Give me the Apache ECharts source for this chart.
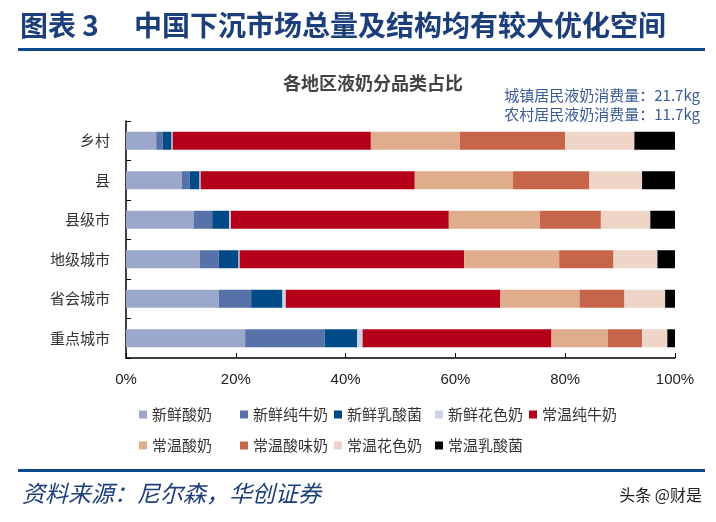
<!DOCTYPE html>
<html>
<head>
<meta charset="utf-8">
<script src="https://cdn.jsdelivr.net/npm/echarts@6/dist/echarts.min.js"></script>
<style>
  html, body { margin: 0; padding: 0; background: #fff; }
  #chart { width: 716px; height: 522px; }
</style>
</head>
<body>
<div id="chart"></div>
<script>
// --- data (percent of each region's liquid milk) ---
const regions = ['乡村', '县', '县级市', '地级城市', '省会城市', '重点城市'];

const freshYogurt   = [5.5, 10.2, 12.3, 13.4, 16.9, 21.7];
const freshMilk     = [1.2, 1.4, 3.4, 3.5, 5.9, 14.5];
const freshLactic   = [1.6, 1.8, 3.1, 3.6, 5.7, 5.9];
const freshFlavored = [0.2, 0.2, 0.3, 0.2, 0.6, 1.0];
const ambientMilk   = [36.1, 39.0, 39.7, 40.9, 39.1, 34.4];
const ambientYogurt = [16.2, 17.9, 16.6, 17.3, 14.4, 10.3];
const ambientSour   = [19.2, 13.9, 11.1, 9.9, 8.2, 6.2];
const ambientFlavor = [12.6, 9.6, 9.0, 8.0, 7.4, 4.6];
const ambientLactic = [7.4, 6.0, 4.5, 3.2, 1.8, 1.4];

const seriesNames = ['新鲜酸奶', '新鲜纯牛奶', '新鲜乳酸菌', '新鲜花色奶', '常温纯牛奶',
                     '常温酸奶', '常温酸味奶', '常温花色奶', '常温乳酸菌'];
const seriesData = [freshYogurt, freshMilk, freshLactic, freshFlavored, ambientMilk,
                    ambientYogurt, ambientSour, ambientFlavor, ambientLactic];
const colors = ['#9BA8CB', '#5672A8', '#004B87', '#CCD3E6', '#B5001A',
                '#DFAC8C', '#C6654A', '#EFD5C8', '#000000'];

const xTicks = [0, 20, 40, 60, 80, 100];

const chart = echarts.init(document.getElementById('chart'));

const cjk = '"Noto Sans CJK SC", sans-serif';

// one legend per item so the columns sit where the reference has them
const legendCols = [134, 235, 329, 430, 524];
const legends = seriesNames.map((name, i) => ({
  data: [name],
  left: legendCols[i % 5],
  top: i < 5 ? 402 : 433,
  icon: 'rect',
  itemWidth: 8,
  itemHeight: 8,
  textStyle: { fontFamily: cjk, fontSize: 15, color: '#333' }
}));

const option = {
  backgroundColor: '#fff',
  animation: false,
  color: colors,
  grid: { left: 126, right: 41, top: 121, bottom: 164 },
  legend: legends,
  xAxis: {
    type: 'value',
    min: xTicks[0],
    max: xTicks[xTicks.length - 1],
    interval: 20,
    axisLine: { show: true, lineStyle: { color: '#000', width: 1.5 } },
    axisTick: { show: true, inside: true, length: 5, lineStyle: { color: '#000' } },
    splitLine: { show: false },
    axisLabel: {
      formatter: '{value}%',
      margin: 14,
      fontFamily: 'Liberation Sans, Arial, sans-serif',
      fontSize: 15,
      color: '#222'
    }
  },
  yAxis: {
    type: 'category',
    data: regions,
    inverse: true,
    axisLine: { show: true, lineStyle: { color: '#000', width: 1.5 } },
    axisTick: { show: true, inside: true, length: 5, lineStyle: { color: '#000' } },
    axisLabel: { margin: 16, fontFamily: cjk, fontSize: 15, color: '#333' }
  },
  series: seriesData.map((d, i) => ({
    name: seriesNames[i],
    type: 'bar',
    stack: 'total',
    barWidth: 18,
    data: d
  })),
  graphic: [
    { type: 'text', left: 20, top: 11,
      style: { text: '图表 3', font: 'bold 28px ' + cjk, fill: '#1C3F7C' } },
    { type: 'text', left: 134, top: 11,
      style: { text: '中国下沉市场总量及结构均有较大优化空间', font: 'bold 28px ' + cjk, fill: '#1C3F7C' } },
    { type: 'rect', shape: { x: 18, y: 48, width: 687, height: 3 }, style: { fill: '#0E4A8A' } },
    { type: 'text', left: 283, top: 74,
      style: { text: '各地区液奶分品类占比', font: 'bold 18px ' + cjk, fill: '#444' } },
    { type: 'text', right: 16, top: 88,
      style: { text: '城镇居民液奶消费量：21.7kg', font: '15px ' + cjk, fill: '#3A5C98' } },
    { type: 'text', right: 16, top: 107,
      style: { text: '农村居民液奶消费量：11.7kg', font: '15px ' + cjk, fill: '#3A5C98' } },
    { type: 'rect', shape: { x: 18, y: 469, width: 687, height: 3 }, style: { fill: '#0E4A8A' } },
    { type: 'text', left: 22, top: 482,
      style: { text: '资料来源：尼尔森，华创证券', font: 'italic 23px ' + cjk, fill: '#1C3F7C' } },
    { type: 'text', right: 14, top: 487,
      style: { text: '头条 @财是', font: '16px ' + cjk, fill: '#222' } }
  ]
};

chart.setOption(option);
</script>
</body>
</html>
